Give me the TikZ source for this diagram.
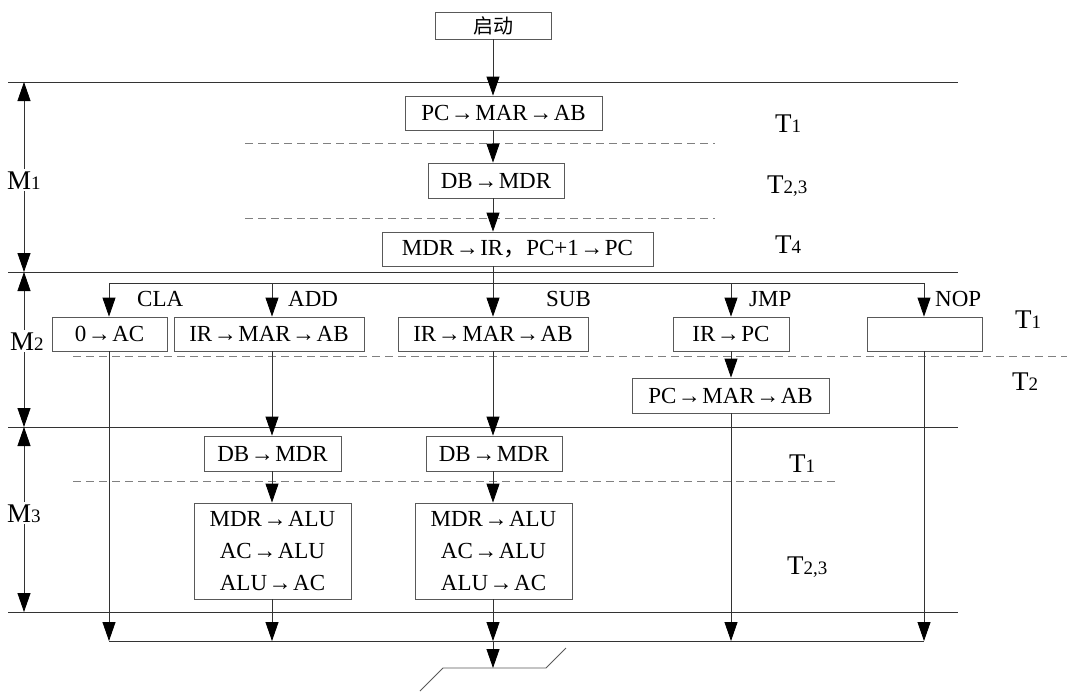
\documentclass[tikz,border=0pt]{standalone}
\usepackage{fontspec}
\setmainfont{Liberation Serif}
\newfontfamily\cjk{Noto Sans CJK SC}
\usetikzlibrary{arrows.meta}
\newcommand\lowsub[1]{{\fontsize{19}{19}\selectfont #1}}
\newcommand\ra{\kern1.5pt→\kern1.5pt}
\begin{document}
\begin{tikzpicture}[x=1pt,y=-1pt,
  box/.style={draw=black!65, line width=0.8pt, inner sep=0pt, minimum height=34pt,
    font=\fontsize{23}{32}\selectfont, text=black, align=center},
  lbl/.style={font=\fontsize{27}{30}\selectfont, inner sep=0pt, text=black, anchor=base west},
  op/.style={font=\fontsize{23}{26}\selectfont, inner sep=0pt, text=black, anchor=base west},
  tip/.style={Triangle[width=13pt,length=19pt,fill=black,color=black]},
  arr/.style={line width=0.8pt, draw=black!80, -{Triangle[width=13pt,length=19pt,color=black]}},
  ln/.style={line width=0.8pt, draw=black!80},
  dsh/.style={line width=0.8pt, draw=black!50, dash pattern=on 8pt off 5pt},
  darr/.style={line width=0.8pt, draw=black!80, {Triangle[width=13pt,length=19pt,color=black]}-{Triangle[width=13pt,length=19pt,color=black]}}
]
\useasboundingbox (0,0) rectangle (1067,691);
\fill[white] (0,0) rectangle (1067,691);

% separators
\draw[ln] (8,82) -- (958,82);
\draw[ln] (8,272) -- (958,272);
\draw[ln] (8,427) -- (958,427);
\draw[ln] (8,612) -- (958,612);
\draw[dsh] (245,143) -- (715,143);
\draw[dsh] (245,218) -- (715,218);
\draw[dsh] (73,356) -- (1067,356);
\draw[dsh] (73,481) -- (837,481);

% machine cycles
\draw[darr] (24,82) -- (24,272);
\draw[darr] (24,272) -- (24,427);
\draw[darr] (24,427) -- (24,612);
\node[lbl, fill=white, inner sep=2pt] (m1) at (5,189) {M\lowsub{1}};
\node[lbl, fill=white, inner sep=2pt] (m2) at (8,350) {M\lowsub{2}};
\node[lbl, fill=white, inner sep=2pt] (m3) at (5,522) {M\lowsub{3}};

% beats
\node[lbl] (t1a) at (775,132) {T\lowsub{1}};
\node[lbl] (t23a) at (767,193) {T\lowsub{2,3}};
\node[lbl] (t4a) at (775,253) {T\lowsub{4}};
\node[lbl] (t1b) at (1015,328) {T\lowsub{1}};
\node[lbl] (t2b) at (1012,390) {T\lowsub{2}};
\node[lbl] (t1c) at (789,472) {T\lowsub{1}};
\node[lbl] (t23c) at (787,574) {T\lowsub{2,3}};

% fetch
\node[box, minimum width=116pt, minimum height=27pt, font=\cjk\fontsize{20}{22}\selectfont] (start) at (493,25.5) {启动};
\node[box, minimum width=197pt] (pc1) at (503.5,113) {PC\ra MAR\ra AB};
\node[box, minimum width=136pt, minimum height=35pt] (db1) at (496,180.5) {DB\ra MDR};
\node[box, minimum width=271pt] (ir1) at (517.5,249) {MDR\ra IR{\cjk ，}PC+1\ra PC};

\draw[arr] (start.south) -- (start.south |- pc1.north);
\draw[arr] (start.south |- pc1.south) -- (start.south |- db1.north);
\draw[arr] (start.south |- db1.south) -- (start.south |- ir1.north);

% execute, M2
\node[box, minimum width=115pt] (cla) at (109.5,334) {0\ra AC};
\node[box, minimum width=190pt] (addb) at (269,334) {IR\ra MAR\ra AB};
\node[box, minimum width=190pt] (subb) at (493,334) {IR\ra MAR\ra AB};
\node[box, minimum width=116pt] (jmp1) at (731,334) {IR\ra PC};
\node[box, minimum width=115pt] (nop) at (924.5,334) {};
\node[box, minimum width=197pt, minimum height=35pt] (jmp2) at (730.5,395.5) {PC\ra MAR\ra AB};

\node[op] (lcla) at (137,306) {CLA};
\node[op] (ladd) at (288,306) {ADD};
\node[op] (lsub) at (546,306) {SUB};
\node[op] (ljmp) at (749,306) {JMP};
\node[op] (lnop) at (935,306) {NOP};

\coordinate (bl) at (109,283);
\coordinate (ba) at (272,283);
\coordinate (bj) at (731,283);
\coordinate (br) at (924,283);
\draw[ln] (bl) -- (br);
\draw[arr] (start.south |- ir1.south) -- (start.south |- subb.north);
\draw[arr] (bl) -- (bl |- cla.north);
\draw[arr] (ba) -- (ba |- addb.north);
\draw[arr] (bj) -- (bj |- jmp1.north);
\draw[arr] (br) -- (br |- nop.north);

% M3
\node[box, minimum width=137pt, minimum height=35pt] (dba) at (272.5,453.5) {DB\ra MDR};
\node[box, minimum width=136pt, minimum height=35pt] (dbs) at (494,453.5) {DB\ra MDR};
\node[box, minimum width=157pt, minimum height=96pt] (alua) at (272.5,551) {MDR\ra ALU\\AC\ra ALU\\ALU\ra AC};
\node[box, minimum width=157pt, minimum height=96pt] (alus) at (493.5,551) {MDR\ra ALU\\AC\ra ALU\\ALU\ra AC};

\coordinate (bot) at (0,641);
\draw[arr] (ba |- addb.south) -- (ba |- dba.north);
\draw[arr] (ba |- dba.south) -- (ba |- alua.north);
\draw[arr] (ba |- alua.south) -- (ba |- bot);
\draw[arr] (start.south |- subb.south) -- (start.south |- dbs.north);
\draw[arr] (start.south |- dbs.south) -- (start.south |- alus.north);
\draw[arr] (start.south |- alus.south) -- (start.south |- bot);
\draw[arr] (bj |- jmp1.south) -- (bj |- jmp2.north);
\draw[arr] (bj |- jmp2.south) -- (bj |- bot);
\draw[arr] (bl |- cla.south) -- (bl |- bot);
\draw[arr] (br |- nop.south) -- (br |- bot);
\draw[ln] (bl |- bot) -- (br |- bot);

% exit connector
\coordinate (ex) at (493,668);
\draw[arr] (start.south |- bot) -- (ex);
\draw[line width=0.8pt, draw=black!65] (420,691) -- (443,668) -- (546,668) -- (566,648);
\end{tikzpicture}
\end{document}
